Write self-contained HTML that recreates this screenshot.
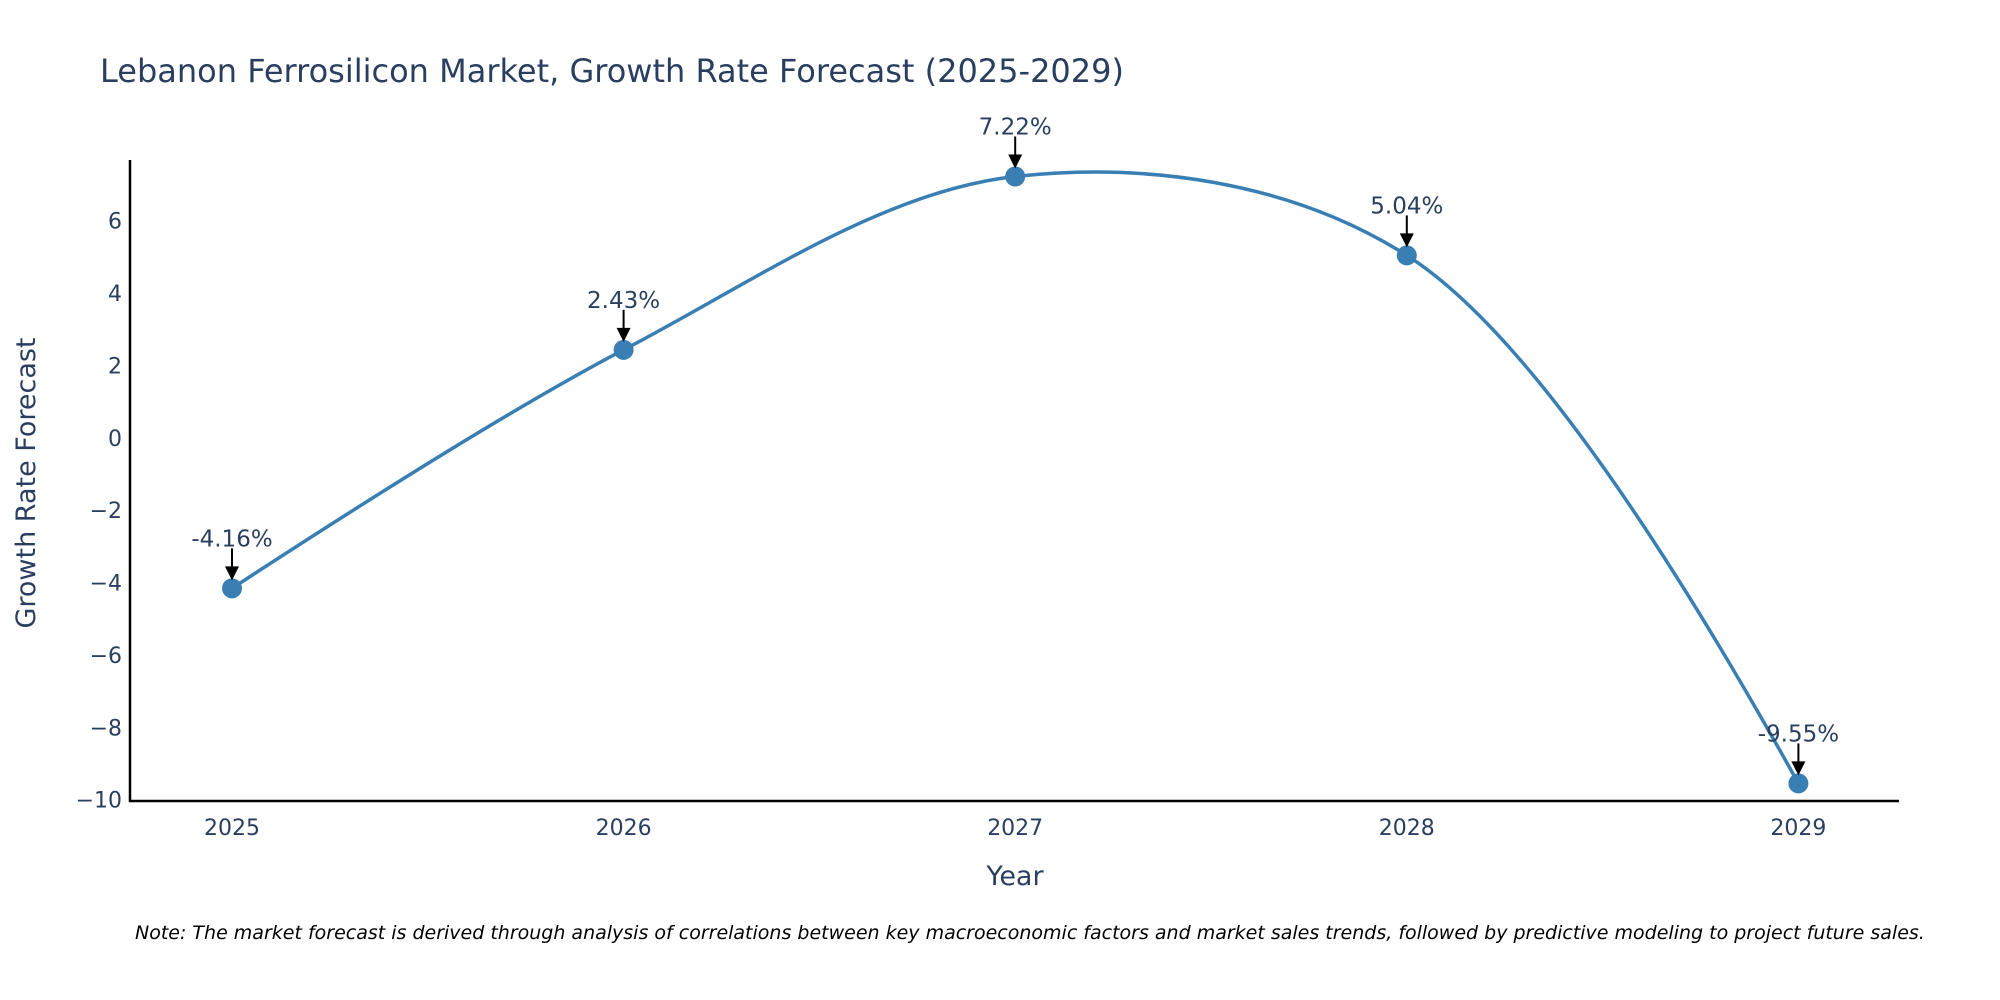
<!DOCTYPE html>
<html><head><meta charset="utf-8"><style>
body{margin:0;background:#fff;}
svg{display:block;font-family:"DejaVu Sans","Liberation Sans",sans-serif;}
</style></head><body>
<svg id="chart" width="2000" height="1000" viewBox="0 0 2000 1000">
<text x="100" y="82" font-size="32" fill="#2a3f5f">Lebanon Ferrosilicon Market, Growth Rate Forecast (2025-2029)</text>
<g id="yticks"></g><g id="xticks"></g>
<line x1="130" y1="160" x2="130" y2="802" stroke="#000" stroke-width="2.5"/>
<line x1="129" y1="801" x2="1899" y2="801" stroke="#000" stroke-width="2.5"/>
<text transform="translate(35,483) rotate(-90)" text-anchor="middle" font-size="27" fill="#2a3f5f">Growth Rate Forecast</text>
<text x="1015" y="885" text-anchor="middle" font-size="27" fill="#2a3f5f">Year</text>
<g id="series"></g><g id="annots"></g>
<text x="135" y="939" font-size="19" font-style="italic" fill="#000">Note: The market forecast is derived through analysis of correlations between key macroeconomic factors and market sales trends, followed by predictive modeling to project future sales.</text>
</svg>
<script>
const years=[2025,2026,2027,2028,2029];
const values=[-4.16,2.43,7.22,5.04,-9.55];
const labels=["-4.16%","2.43%","7.22%","5.04%","-9.55%"];
const yTicks=[-10,-8,-6,-4,-2,0,2,4,6];
const NS="http://www.w3.org/2000/svg";
function X(v){return 232+(v-2025)*391.6;}
function Y(v){return 437.8-v*36.19;}
function mk(t,a,p){const e=document.createElementNS(NS,t);for(const k in a)e.setAttribute(k,a[k]);p.appendChild(e);return e;}
const yt=document.getElementById('yticks');
yTicks.forEach(v=>{const t=mk('text',{x:122,y:Y(v)+8,'text-anchor':'end','font-size':22,fill:'#2a3f5f'},yt);


t.textContent=v<0?'\u2212'+Math.abs(v):String(v);});
const xt=document.getElementById('xticks');
years.forEach(v=>{const t=mk('text',{x:X(v),y:835,'text-anchor':'middle','font-size':22,fill:'#2a3f5f'},xt);


t.textContent=v;});
const pts=years.map((y,i)=>[X(y),Y(values[i])]);
function tan(p,c,n,s){const d1x=p[0]-c[0],d1y=p[1]-c[1],d2x=n[0]-c[0],d2y=n[1]-c[1];
const d1a=Math.pow(d1x*d1x+d1y*d1y,0.25),d2a=Math.pow(d2x*d2x+d2y*d2y,0.25);
const nx=(d2a*d2a*d1x-d1a*d1a*d2x)*s,ny=(d2a*d2a*d1y-d1a*d1a*d2y)*s;
const D1=3*d2a*(d1a+d2a),D2=3*d1a*(d1a+d2a);
return [[c[0]+nx/D1,c[1]+ny/D1],[c[0]-nx/D2,c[1]-ny/D2]];}
const T=[];for(let i=1;i<pts.length-1;i++)T.push(tan(pts[i-1],pts[i],pts[i+1],1));
const f=p=>p[0].toFixed(2)+','+p[1].toFixed(2);
let d='M'+f(pts[0])+'Q'+f(T[0][0])+' '+f(pts[1]);
for(let i=1;i<pts.length-2;i++)d+='C'+f(T[i-1][1])+' '+f(T[i][0])+' '+f(pts[i+1]);
d+='Q'+f(T[T.length-1][1])+' '+f(pts[pts.length-1]);
const s=document.getElementById('series');
const line=mk('path',{d:d,fill:'none',stroke:'#3a7fb4','stroke-width':3.5},s);


pts.forEach(p=>{const c=mk('circle',{cx:p[0],cy:p[1],r:10,fill:'#3a7fb4'},s);

});
const an=document.getElementById('annots');
pts.forEach((p,i)=>{
const l=mk('line',{x1:p[0],y1:p[1]-40,x2:p[0],y2:p[1]-20,stroke:'#000','stroke-width':2},an);


const h=mk('polygon',{points:`${p[0]-7},${p[1]-22} ${p[0]+7},${p[1]-22} ${p[0]},${p[1]-8}`,fill:'#000'},an);


const t=mk('text',{x:p[0],y:p[1]-42,'text-anchor':'middle','font-size':23,fill:'#2a3f5f'},an);


t.textContent=labels[i];});
</script>
</body></html>
